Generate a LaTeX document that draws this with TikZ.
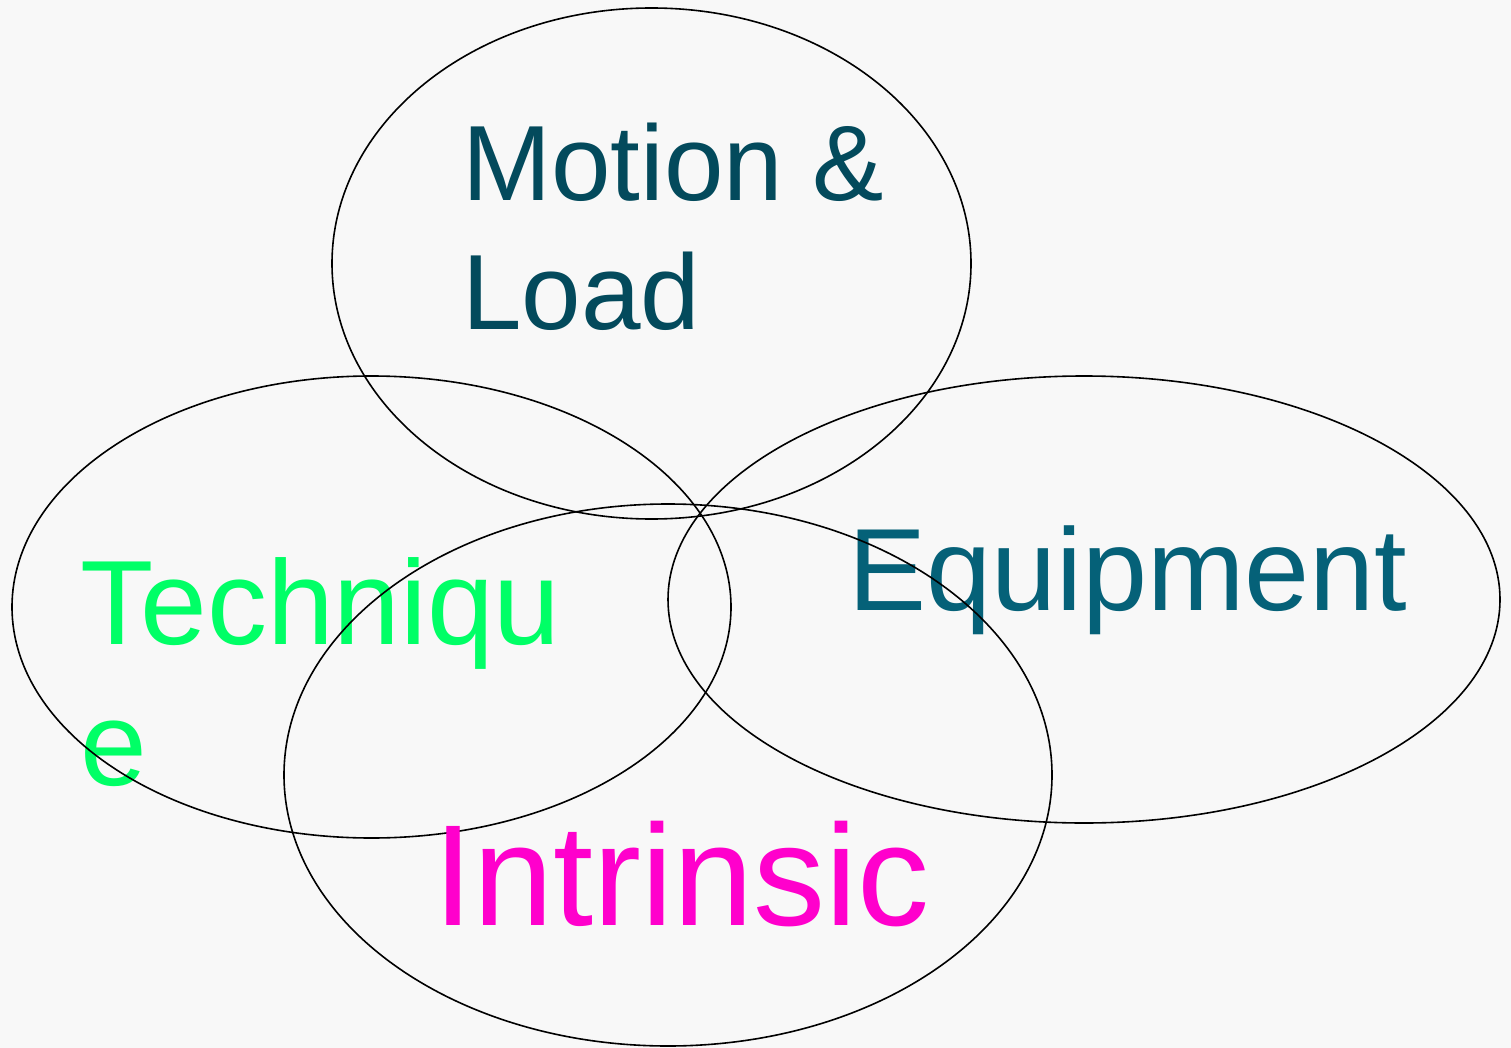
\documentclass[tikz,border=0pt]{standalone}
\usepackage{fontspec}
\setmainfont{Liberation Sans}
\definecolor{motioncol}{HTML}{034A5C}
\definecolor{equipcol}{HTML}{056178}
\definecolor{techcol}{HTML}{00FF66}
\definecolor{intrcol}{HTML}{FF00CC}
\definecolor{bgcol}{HTML}{F8F8F8}
\begin{document}
\begin{tikzpicture}[x=1pt,y=-1pt,
  ring/.style={draw=black,line width=1.6pt},
  lbl/.style={inner sep=0pt,anchor=base west,align=left}]
\fill[bgcol] (0,0) rectangle (1511,1048);
\useasboundingbox (0,0) rectangle (1511,1048);
\node[lbl,text=motioncol,font=\fontsize{107}{128}\selectfont] (motion) at (462,329) {Motion \&\\Load};
\node[lbl,text=techcol,font=\fontsize{120}{141}\selectfont] (tech) at (80,785) {Techniqu\\e};
\node[lbl,text=equipcol,font=\fontsize{117}{140}\selectfont] (equip) at (848,610) {Equipment};
\draw[ring] (651.5,263.5) ellipse [x radius=319.5, y radius=255.5];
\draw[ring] (371.5,607) ellipse [x radius=359.5, y radius=231];
\draw[ring] (1084,599.5) ellipse [x radius=416, y radius=223.5];
\draw[ring] (668,775) ellipse [x radius=384, y radius=271];
\node[lbl,text=intrcol,font=\fontsize{144}{172}\selectfont] (intr) at (433,925) {Intrinsic};
\end{tikzpicture}
\end{document}
